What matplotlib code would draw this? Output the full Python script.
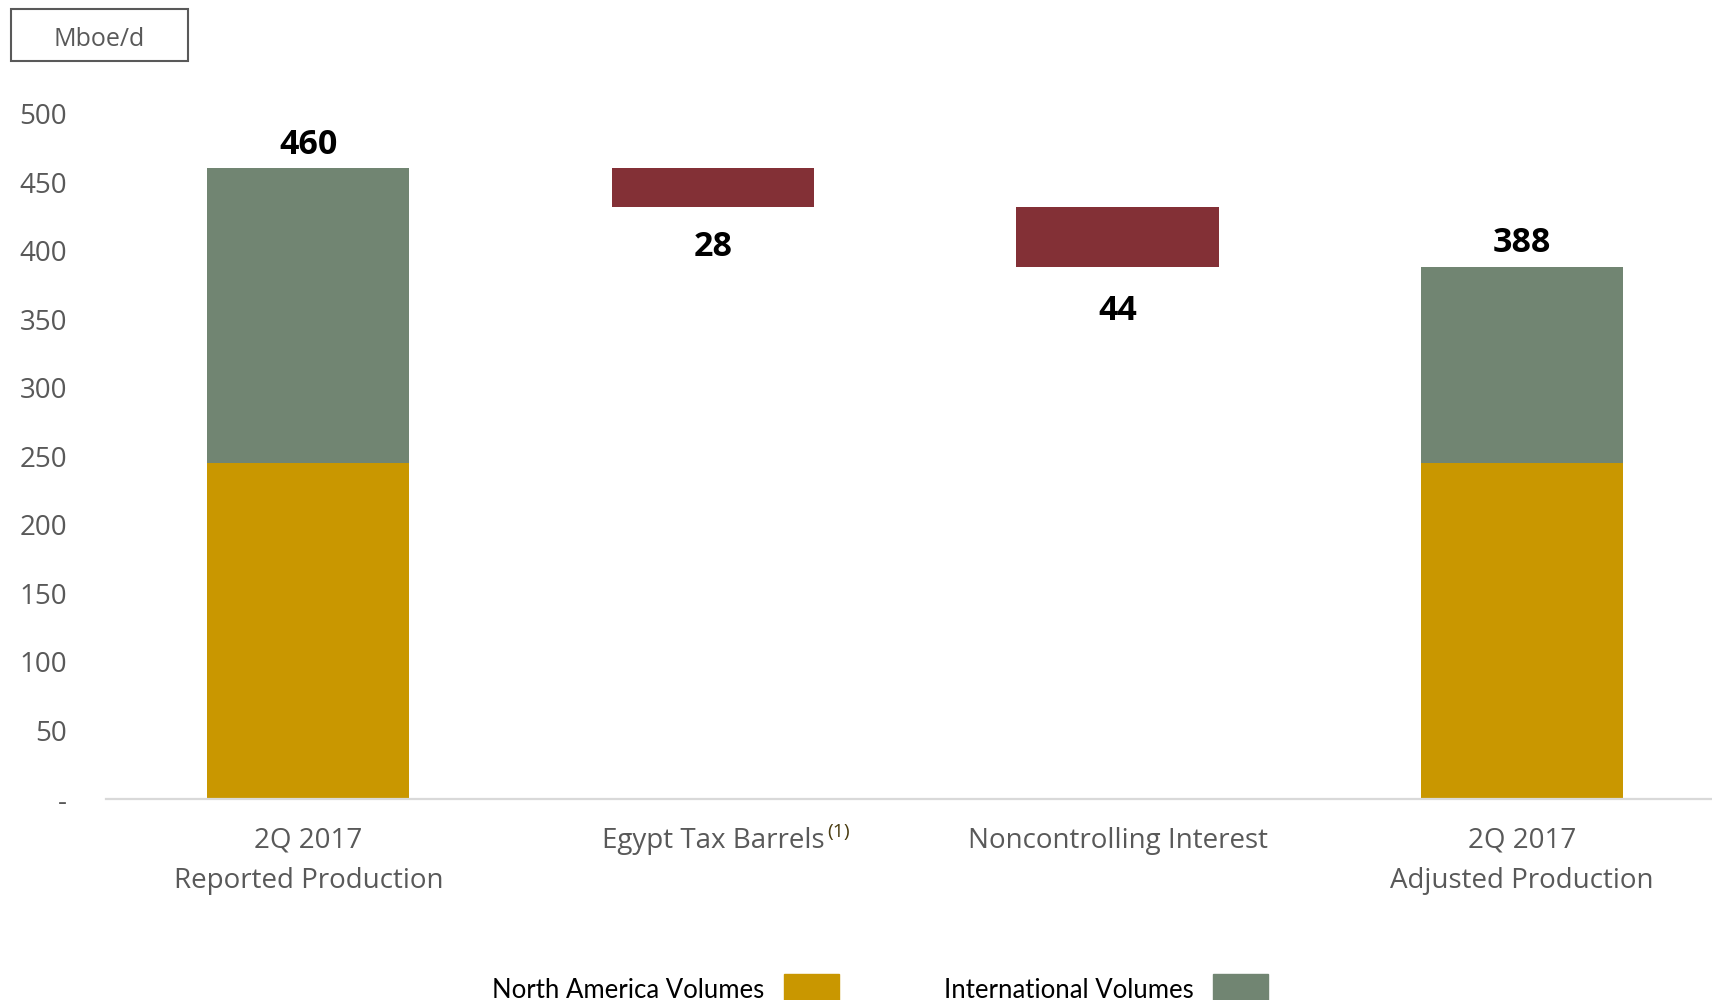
import matplotlib
matplotlib.use("Agg")
import matplotlib.pyplot as plt
from matplotlib.patches import Rectangle

plt.rcParams['font.family'] = ['Open Sans', 'DejaVu Sans']

# production bridge, Mboe/d
categories = ['2Q 2017\nReported Production', 'Egypt Tax Barrels',
              'Noncontrolling Interest', '2Q 2017\nAdjusted Production']
north_america = [245, 245]      # reported, adjusted
international = [215, 143]      # reported, adjusted
adjustments = [28, 44]          # egypt tax barrels, noncontrolling interest
yticks = [0, 50, 100, 150, 200, 250, 300, 350, 400, 450, 500]
ytick_labels = ['-', '50', '100', '150', '200', '250', '300', '350', '400', '450', '500']

gold = '#C99700'
sage = '#718572'
maroon = '#833036'
grey = '#595959'

fig = plt.figure(figsize=(17.12, 10), dpi=100)
ax = fig.add_axes([106 / 1712, 0.201, 1 - 106 / 1712, 0.6855])

x = range(len(categories))
w = 0.5

# end bars: stacked north america + international
ends = [0, 3]
ax.bar([x[i] for i in ends], north_america, width=w, color=gold, zorder=2)
ax.bar([x[i] for i in ends], international, width=w, bottom=north_america,
       color=sage, zorder=2)
totals = [n + t for n, t in zip(north_america, international)]

# floating adjustment bars
level = totals[0]
bottoms = []
for a in adjustments:
    level -= a
    bottoms.append(level)
ax.bar([x[1], x[2]], adjustments, width=w, bottom=bottoms, color=maroon, zorder=2)

# value labels
for i, t in zip(ends, totals):
    ax.annotate(str(t), (x[i], t), xytext=(0, 17), textcoords='offset points',
                ha='center', va='center', fontsize=24.5, fontweight='bold', color='black')
for i, b, a, off in zip([1, 2], bottoms, adjustments, [-29, -31.5]):
    ax.annotate(str(a), (x[i], b), xytext=(0, off), textcoords='offset points',
                ha='center', va='center', fontsize=24.5, fontweight='bold', color='black')

ax.set_xlim(-0.5, 3.469)
ax.set_ylim(0, 500)
ax.set_yticks(yticks)
ax.set_yticklabels(ytick_labels)
ax.set_xticks(list(x))
ax.set_xticklabels(categories, linespacing=1.6)
ax.tick_params(axis='y', length=0, pad=28, labelsize=20, labelcolor=grey)
ax.tick_params(axis='x', length=0, pad=20, labelsize=20, labelcolor=grey)
for t in ax.get_xticklabels():
    t.set_verticalalignment('top')
for s in ['left', 'right', 'top']:
    ax.spines[s].set_visible(False)
ax.spines['bottom'].set_color('#d9d9d9')
ax.spines['bottom'].set_linewidth(1.6)

# unit box
fig.patches.append(Rectangle((11 / 1712, 1 - 61 / 1000), 177 / 1712, 52 / 1000,
                             transform=fig.transFigure, fill=False,
                             edgecolor=grey, linewidth=1.5))
fig.text(99 / 1712, 1 - 39 / 1000, 'Mboe/d', ha='center', va='center',
         fontsize=18, color=grey)

# legend row along the bottom
legend_items = [('North America Volumes', gold, 764, 784),
                ('International Volumes', sage, 1194, 1213)]
for label, color, tx, sx in legend_items:
    fig.text(tx / 1712, 1 - 990 / 1000, label, ha='right', va='center',
             fontsize=18.5, color='black', family=['Lato', 'DejaVu Sans'])
    fig.patches.append(Rectangle((sx / 1712, 0), 55 / 1712, 26 / 1000,
                                 transform=fig.transFigure, color=color))

# footnote marker after the egypt label
fig.canvas.draw()
lab = ax.get_xticklabels()[1]
bb = lab.get_window_extent()
fig.text((bb.x1 + 3) / 1712, 1 - 832 / 1000, '(1)', ha='left', va='center',
         fontsize=14, color='#4a3c10')

fig.savefig('out.png', dpi=100)
